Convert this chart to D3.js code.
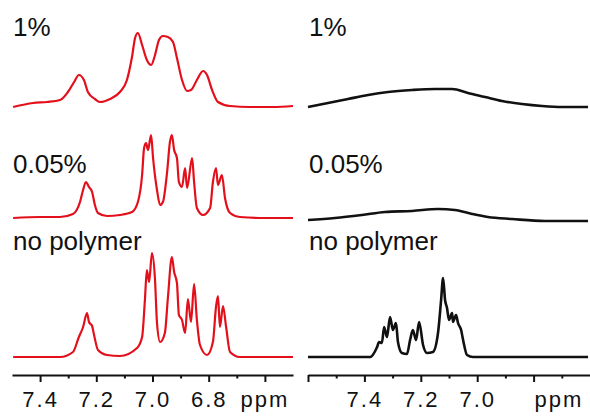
<!DOCTYPE html>
<html>
<head>
<meta charset="utf-8">
<script src="https://cdn.jsdelivr.net/npm/d3@7"></script>
<style>
    body { margin: 0; background: #fff; }
    svg { display: block; font-family: "Liberation Sans", Arial, sans-serif; }
</style>
</head>
<body>
<svg id="chart" width="590" height="416"></svg>
<script>
// -----
// DATA: [ppm, intensity]
// -----

const panelLabels = ["1%", "0.05%", "no polymer"];

// left panel (red)
const redOnePercent = [
    [7.496, 0], [7.425, 4], [7.375, 5], [7.329, 7], [7.301, 15], [7.279, 25], [7.262, 32],
    [7.244, 27], [7.230, 15], [7.205, 8], [7.187, 5], [7.151, 8], [7.116, 15], [7.091, 27],
    [7.073, 50], [7.062, 69], [7.052, 74], [7.037, 62], [7.020, 47], [7.005, 42], [6.991, 52],
    [6.977, 67], [6.963, 71], [6.945, 70], [6.927, 65], [6.913, 49], [6.895, 27], [6.877, 16],
    [6.863, 17], [6.842, 27], [6.820, 36], [6.806, 32], [6.788, 17], [6.767, 5], [6.724, 1],
    [6.653, 0], [6.571, 0], [6.500, 1]
];
const redLowPercent = [
    [7.496, 0], [7.400, 1], [7.329, 1], [7.283, 4], [7.258, 16], [7.247, 28], [7.237, 36],
    [7.226, 31], [7.215, 26], [7.205, 13], [7.194, 5], [7.162, 2], [7.116, 3], [7.073, 6],
    [7.052, 16], [7.037, 43], [7.030, 70], [7.023, 75], [7.016, 68], [7.005, 83], [6.998, 60],
    [6.984, 28], [6.973, 13], [6.963, 16], [6.948, 46], [6.938, 76], [6.931, 83], [6.923, 68],
    [6.913, 60], [6.906, 36], [6.895, 31], [6.884, 50], [6.877, 30], [6.859, 60], [6.852, 36],
    [6.842, 10], [6.820, 3], [6.795, 10], [6.785, 36], [6.774, 50], [6.767, 33], [6.753, 43],
    [6.742, 20], [6.724, 5], [6.689, 1], [6.600, 0], [6.500, 0]
];
const redNoPolymer = [
    [7.496, 0], [7.329, 0], [7.283, 5], [7.262, 20], [7.247, 30], [7.233, 44],
    [7.226, 35], [7.215, 31], [7.208, 22], [7.194, 7], [7.162, 2], [7.116, 1], [7.055, 9],
    [7.037, 20], [7.027, 57], [7.020, 87], [7.012, 75], [7.002, 104], [6.991, 77], [6.984, 34],
    [6.973, 15], [6.956, 24], [6.945, 60], [6.931, 100], [6.923, 85], [6.913, 74], [6.906, 42],
    [6.895, 37], [6.884, 24], [6.874, 58], [6.863, 35], [6.852, 73], [6.842, 37], [6.831, 12],
    [6.806, 2], [6.785, 15], [6.774, 50], [6.767, 61], [6.760, 30], [6.749, 51], [6.738, 30],
    [6.724, 5], [6.689, 0], [6.500, 0]
];

// right panel (black)
const blackOnePercent = [
    [7.600, 0], [7.529, 4], [7.458, 8], [7.387, 12], [7.316, 15], [7.231, 17], [7.150, 18],
    [7.089, 18], [7.033, 14], [6.972, 10], [6.912, 6], [6.841, 3], [6.770, 1], [6.699, 0],
    [6.607, 0]
];
const blackLowPercent = [
    [7.600, 1], [7.504, 3], [7.409, 6], [7.327, 9], [7.231, 10], [7.139, 12], [7.079, 11],
    [7.018, 7], [6.962, 4], [6.877, 2], [6.760, 0], [6.607, 0]
];
const blackNoPolymer = [
    [7.600, 0], [7.487, 0], [7.380, 0], [7.355, 10], [7.348, 15], [7.338, 14], [7.330, 30],
    [7.320, 20], [7.309, 40], [7.299, 27], [7.288, 34], [7.281, 15], [7.267, 4], [7.249, 3],
    [7.238, 17], [7.228, 27], [7.217, 17], [7.206, 35], [7.192, 12], [7.178, 4], [7.157, 5],
    [7.139, 24], [7.128, 57], [7.121, 79], [7.114, 57], [7.107, 49], [7.100, 37], [7.089, 44],
    [7.086, 35], [7.075, 42], [7.068, 34], [7.057, 27], [7.050, 17], [7.036, 2], [7.015, 0],
    [6.884, 0], [6.607, 0]
];

const leftMajor = [7.4, 7.2, 7.0, 6.8, 6.6];
const leftMinor = [7.3, 7.1, 6.9, 6.7];
const leftLabels = ["7.4", "7.2", "7.0", "6.8", ""];
const rightMajor = [7.6, 7.4, 7.2, 7.0, 6.8];
const rightMinor = [7.5, 7.3, 7.1, 6.9, 6.7];
const rightLabels = ["", "7.4", "7.2", "7.0", ""];

// -----
// LAYOUT
// -----

const svg = d3.select("#chart");
const axisY = 375;
const baselines = [107, 218, 357];
const baselinesRight = [107, 221, 357];
const labelBaselines = [36, 173, 250];

const xLeft = d3.scaleLinear().domain([7.5, 6.5]).range([12, 293]);
const xRight = d3.scaleLinear().domain([7.6, 6.6]).range([308, 590]);

function drawPanel(series, xScale, bases, color, width, labelX) {
    const g = svg.append("g").attr("class", "panel");

    series.forEach((data, i) => {
        const yScale = d3.scaleLinear().domain([0, 100]).range([bases[i], bases[i] - 100]);
        const line = d3.line()
            .x(d => xScale(d[0]))
            .y(d => yScale(d[1]))
            .curve(d3.curveMonotoneX);
        g.append("path")
            .datum(data)
            .attr("fill", "none")
            .attr("stroke", color)
            .attr("stroke-width", width)
            .attr("stroke-linejoin", "round")
            .attr("d", line);
    });

    g.selectAll("text.panel-label")
        .data(panelLabels)
        .join("text")
        .attr("class", "panel-label")
        .attr("x", labelX)
        .attr("y", (d, i) => labelBaselines[i])
        .attr("font-size", 26)
        .attr("fill", "#111")
        .text(d => d);
}

function drawAxis(xScale, major, minor, labels, ppmAt) {
    const g = svg.append("g").attr("transform", `translate(0,${axisY})`);

    const majorAxis = d3.axisBottom(xScale)
        .tickValues(major)
        .tickSize(7)
        .tickSizeOuter(0)
        .tickFormat((d, i) => labels[i]);
    g.call(majorAxis);

    const minorAxis = d3.axisBottom(xScale)
        .tickValues(minor)
        .tickSize(3.5)
        .tickSizeOuter(0)
        .tickFormat("");
    g.append("g").call(minorAxis).select(".domain").remove();

    g.selectAll(".domain").attr("stroke", "#111").attr("stroke-width", 2);
    g.selectAll(".tick line").attr("stroke", "#111").attr("stroke-width", 2);
    g.selectAll(".tick text")
        .attr("y", 16)
        .attr("font-size", 22)
        .attr("letter-spacing", 2)
        .attr("font-family", "'Liberation Sans', Arial, sans-serif")
        .attr("fill", "#111");

    g.append("text")
        .attr("x", xScale(ppmAt))
        .attr("y", 32)
        .attr("text-anchor", "middle")
        .attr("font-size", 22)
        .attr("letter-spacing", 2)
        .attr("fill", "#111")
        .text("ppm");
}

drawPanel([redOnePercent, redLowPercent, redNoPolymer], xLeft, baselines, "#e3101b", 2.2, 13);
drawPanel([blackOnePercent, blackLowPercent, blackNoPolymer], xRight, baselinesRight, "#111", 2.6, 309);

drawAxis(xLeft, leftMajor, leftMinor, leftLabels, 6.6);
drawAxis(xRight, rightMajor, rightMinor, rightLabels, 6.71);
</script>
</body>
</html>
